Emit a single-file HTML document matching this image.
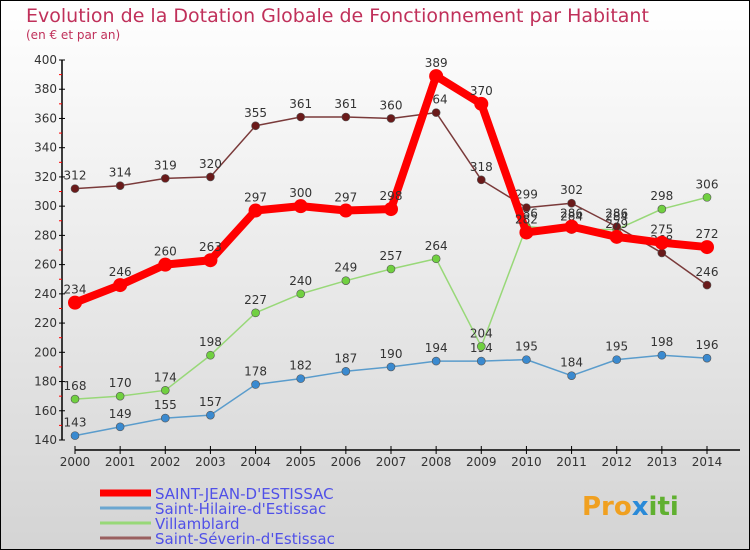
<!DOCTYPE html>
<html><head><meta charset="utf-8"><style>
body{margin:0;}
#c{width:750px;height:550px;position:relative;overflow:hidden;background:linear-gradient(#ffffff,#d4d4d4);font-family:"DejaVu Sans","Liberation Sans",sans-serif;}
svg text{font-family:"DejaVu Sans","Liberation Sans",sans-serif;}
</style></head><body>
<div id="c">
<svg id="s" width="750" height="550" xmlns="http://www.w3.org/2000/svg">
<rect x="0.5" y="0.5" width="749" height="549" fill="none" stroke="#000"/>
<text x="26" y="22" font-size="19" fill="#c0305a">Evolution de la Dotation Globale de Fonctionnement par Habitant</text>
<text x="26" y="39" font-size="12" fill="#c0305a">(en € et par an)</text>
<g id="legend">
<line x1="100" y1="493" x2="151" y2="493" stroke="#f00" stroke-width="7"/>
<text x="155" y="499" font-size="15" fill="#5050e8">SAINT-JEAN-D'ESTISSAC</text>
<line x1="100" y1="508" x2="151" y2="508" stroke="#6aa6d0" stroke-width="3"/>
<text x="155" y="514" font-size="15" fill="#5050e8">Saint-Hilaire-d'Estissac</text>
<line x1="100" y1="523" x2="151" y2="523" stroke="#98d878" stroke-width="3"/>
<text x="155" y="529" font-size="15" fill="#5050e8">Villamblard</text>
<line x1="100" y1="538" x2="151" y2="538" stroke="#9a6060" stroke-width="3"/>
<text x="155" y="544" font-size="15" fill="#5050e8">Saint-Séverin-d'Estissac</text>
</g>
<text x="582" y="515" font-size="26" font-weight="bold" fill="#f0a020">Pro<tspan fill="#2a8ad8">x</tspan><tspan fill="#60b030">iti</tspan></text>
</svg>
</div>
<script>
const years=[2000,2001,2002,2003,2004,2005,2006,2007,2008,2009,2010,2011,2012,2013,2014];
const yTicks=[140,160,180,200,220,240,260,280,300,320,340,360,380,400];
const stJean=[234,246,260,263,297,300,297,298,389,370,282,286,279,275,272];
const stHilaire=[143,149,155,157,178,182,187,190,194,194,195,184,195,198,196];
const villamblard=[168,170,174,198,227,240,249,257,264,204,286,284,284,298,306];
const stSeverin=[312,314,319,320,355,361,361,360,364,318,299,302,286,268,246];
const s=document.getElementById('s');
const NS='http://www.w3.org/2000/svg';
const xS=i=>75+i*(707-75)/(years.length-1);
const yS=v=>440-(v-140)*(380/260);
function mk(t,a){const e=document.createElementNS(NS,t);for(const k in a)e.setAttribute(k,a[k]);s.appendChild(e);return e;}
// axes
let ax=mk('line',{x1:62,y1:60,x2:62,y2:440,stroke:'#000','stroke-width':1.5});


ax=mk('line',{x1:75,y1:450,x2:740,y2:450,stroke:'#000','stroke-width':1.5});


yTicks.forEach((v,i)=>{
 const y=yS(v);
 let t=mk('line',{x1:59,y1:y,x2:65,y2:y,stroke:'#000'});
 
 
 if(i<yTicks.length-1){let m=mk('line',{x1:59,y1:yS(v+10),x2:62,y2:yS(v+10),stroke:'#f00'});
 
 }
 let l=mk('text',{x:57,y:y+4,'font-size':12,fill:'#333','text-anchor':'end'});l.textContent=v;
 
 
});
years.forEach((yr,i)=>{
 const x=xS(i);
 let t=mk('line',{x1:x,y1:446,x2:x,y2:454,stroke:'#000'});
 
 
 let l=mk('text',{x:x,y:466,'font-size':12,fill:'#333','text-anchor':'middle'});l.textContent=yr;
 
 
});
function series(data,name,color,fill,w,r){
 const g=mk('g',{});
 
 
 const p=mk('polyline',{points:data.map((v,i)=>xS(i)+','+yS(v)).join(' '),fill:'none',stroke:color,'stroke-width':w,'stroke-linejoin':'round'});
 
 
 g.appendChild(p);
 data.forEach((v,i)=>{
  const c=mk('circle',{cx:xS(i),cy:yS(v),r:r,fill:fill,stroke:color==='#f00'?'#f00':'#555','stroke-width':color==='#f00'?0:0.6});
  
  
  g.appendChild(c);
  const l=mk('text',{x:xS(i),y:yS(v)-9,'font-size':12,fill:'#333','text-anchor':'middle'});l.textContent=v;
  
  
  g.appendChild(l);
 });
}
series(stHilaire,'saint-hilaire','#5a9ccc','#3a8ad0',1.5,4);
series(villamblard,'villamblard','#98d878','#70d040',1.5,4);
series(stSeverin,'saint-severin','#7a3a3a','#6a1a1a',1.5,4);
series(stJean,'saint-jean','#f00','#f00',8,7);
</script>
</body></html>
